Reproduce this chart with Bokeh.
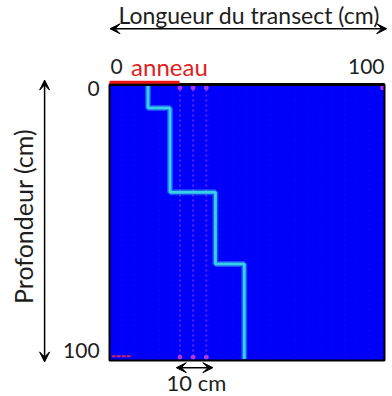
from bokeh.plotting import figure
from bokeh.models import Range1d, Arrow, VeeHead
from bokeh.core.properties import value
from bokeh.embed import file_html
from bokeh.resources import INLINE

# ---- data ----
transect_min, transect_max = 0, 100
depth_min, depth_max = 0, 100

# cyan boundary path (x = transect position cm, y = depth cm)
path_x = [14, 14, 22, 22, 38.5, 38.5, 49, 49]
path_y = [0, 8.5, 8.5, 39, 39, 65, 65, 99.5]

# faint magenta dotted transects (10 cm apart, outer pair)
dotted_x = [25.6, 30.4, 35.2]

# red "anneau" segment along the top
ring_start, ring_end = 0, 25.5

title_x = "Longueur du transect (cm)"
title_y = "Profondeur (cm)"
ring_label = "anneau"
scale_label = "10 cm"
x_tick_labels = ["0", "100"]
y_tick_labels = ["0", "100"]

FONT = value("Lato")
TXT = "#1e1e1e"
FS = value("21px")

# ---- figure: the frame covers the whole canvas ----
W, H = 392, 396
px_x = 2.75
px_y = 2.76
x0 = -109 / px_x
y_top = -84 / px_y
y_bot = 100 + (H - 360) / px_y

p = figure(width=W, height=H, output_backend="svg", toolbar_location=None,
           x_range=Range1d(x0, x0 + W / px_x), y_range=Range1d(y_bot, y_top),
           x_axis_location=None, y_axis_location=None,
           min_border=0, min_border_left=0, min_border_right=0,
           min_border_top=0, min_border_bottom=0)
p.outline_line_color = None
p.grid.visible = False
p.background_fill_color = "white"
p.border_fill_color = "white"

# blue box
p.quad(left=[transect_min], right=[transect_max], top=[depth_min], bottom=[depth_max],
       fill_color="#0000fa", line_color=None)

# faint texture grid
gx = [i * 4.5 for i in range(1, 23)]
p.multi_line(xs=[[g, g] for g in gx], ys=[[0, 100]] * len(gx),
             line_color="#2a2aff", line_alpha=0.5, line_width=1, line_dash="1 4")

# dotted magenta transects
p.multi_line(xs=[[d, d] for d in dotted_x], ys=[[0, 100]] * len(dotted_x),
             line_color="#9a3cf0", line_alpha=0.6, line_width=2, line_dash="2 3")
dot_x = dotted_x + [99.3]
p.scatter(x=dot_x, y=[1.2] * len(dot_x), size=4, color="#c844e8", alpha=0.8)
p.scatter(x=dotted_x, y=[98.8] * len(dotted_x), size=4, color="#c844e8", alpha=0.8)
p.line(x=[0.8, 8], y=[98.5, 98.5], line_color="#c82860", line_width=2, line_dash="4 1")

# cyan path with glow
p.line(x=path_x, y=path_y, line_color="#40d8f0", line_width=6, line_alpha=0.35)
p.line(x=path_x, y=path_y, line_color="#38cfe8", line_width=3)

# border
p.quad(left=[transect_min], right=[transect_max], top=[depth_min], bottom=[depth_max],
       fill_color=None, line_color="black", line_width=2)
p.line(x=[transect_min, transect_max], y=[0, 0], line_color="black", line_width=3)

# red ring bar
p.line(x=[ring_start, ring_end], y=[-0.8, -0.8], line_color="#e8161b", line_width=3)

# texts
def txt(x, y, s, align="center", color=TXT, size=FS, angle=0):
    p.text(x=[x], y=[y], text=[s], text_font=FONT, text_font_size=size,
           text_color=color, text_align=align, text_baseline="middle", angle=angle)

txt(50.8, -25.2, title_x, size=value("23px"))
txt(0.4, -6.5, x_tick_labels[0], align="left")
txt(100, -6.5, x_tick_labels[1], align="right")
txt(21.8, -6.7, ring_label, color="#e01e1e", size=value("24px"))
txt(-3.6, 1.4, y_tick_labels[0], align="right")
txt(-3.6, 96.4, y_tick_labels[1], align="right")
txt(-31.4, 47.8, title_y, size=value("25px"), angle=1.5708)
txt(31.6, 107.9, scale_label, size=value("22px"))

# arrows
def head():
    return VeeHead(size=10, fill_color="black", line_color="black", line_width=1)

p.add_layout(Arrow(start=head(), end=head(), x_start=0.2, y_start=-20.2, x_end=100.8, y_end=-20.2,
                   line_color="black", line_width=1.5))
p.add_layout(Arrow(start=head(), end=head(), x_start=-23.6, y_start=-1.6, x_end=-23.6, y_end=100.5,
                   line_color="black", line_width=1.5))
p.add_layout(Arrow(start=head(), end=head(), x_start=24.3, y_start=102.6, x_end=37.6, y_end=102.6,
                   line_color="black", line_width=1.5))

open("out.html", "w").write(file_html(p, INLINE))
